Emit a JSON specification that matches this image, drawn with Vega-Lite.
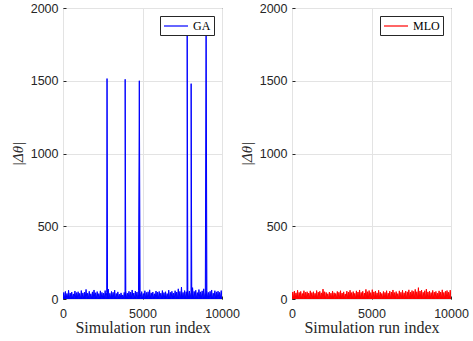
{
"$schema":"https://vega.github.io/schema/vega-lite/v6.json",
"background":"white",
"padding":{"left":9,"top":1,"right":5,"bottom":0},
"datasets":{
"ga":[{"i":0,"v":3},{"i":50,"v":45},{"i":100,"v":1},{"i":150,"v":52},{"i":200,"v":4},{"i":250,"v":38},{"i":300,"v":2},{"i":350,"v":60},{"i":400,"v":0},{"i":450,"v":41},{"i":500,"v":5},{"i":550,"v":48},{"i":600,"v":2},{"i":650,"v":35},{"i":700,"v":1},{"i":750,"v":55},{"i":800,"v":3},{"i":850,"v":44},{"i":900,"v":6},{"i":950,"v":50},
{"i":1000,"v":2},{"i":1050,"v":39},{"i":1100,"v":0},{"i":1150,"v":58},{"i":1200,"v":4},{"i":1250,"v":42},{"i":1300,"v":1},{"i":1350,"v":47},{"i":1400,"v":3},{"i":1450,"v":66},{"i":1500,"v":2},{"i":1550,"v":40},{"i":1600,"v":5},{"i":1650,"v":53},{"i":1700,"v":1},{"i":1750,"v":36},{"i":1800,"v":3},{"i":1850,"v":49},{"i":1900,"v":0},{"i":1950,"v":62},
{"i":2000,"v":4},{"i":2050,"v":43},{"i":2100,"v":2},{"i":2150,"v":51},{"i":2200,"v":1},{"i":2250,"v":37},{"i":2300,"v":5},{"i":2350,"v":56},{"i":2400,"v":2},{"i":2450,"v":45},{"i":2500,"v":3},{"i":2550,"v":40},{"i":2600,"v":0},{"i":2650,"v":58},{"i":2700,"v":4},{"i":2750,"v":44},{"i":2770,"v":1515},{"i":2800,"v":2},{"i":2850,"v":68},{"i":2900,"v":1},{"i":2950,"v":39},
{"i":3000,"v":3},{"i":3050,"v":52},{"i":3100,"v":5},{"i":3150,"v":46},{"i":3200,"v":2},{"i":3250,"v":61},{"i":3300,"v":0},{"i":3350,"v":38},{"i":3400,"v":4},{"i":3450,"v":49},{"i":3500,"v":1},{"i":3550,"v":33},{"i":3600,"v":3},{"i":3650,"v":42},{"i":3700,"v":2},{"i":3750,"v":28},{"i":3800,"v":4},{"i":3850,"v":45},{"i":3900,"v":1},{"i":3910,"v":1510},{"i":3950,"v":57},
{"i":4000,"v":2},{"i":4050,"v":40},{"i":4100,"v":5},{"i":4150,"v":53},{"i":4200,"v":1},{"i":4250,"v":47},{"i":4300,"v":3},{"i":4350,"v":62},{"i":4400,"v":0},{"i":4450,"v":41},{"i":4500,"v":4},{"i":4550,"v":55},{"i":4600,"v":2},{"i":4650,"v":48},{"i":4700,"v":1},{"i":4750,"v":60},{"i":4800,"v":1500},{"i":4850,"v":44},{"i":4900,"v":3},{"i":4950,"v":51},
{"i":5000,"v":2},{"i":5050,"v":38},{"i":5100,"v":4},{"i":5150,"v":57},{"i":5200,"v":1},{"i":5250,"v":45},{"i":5300,"v":3},{"i":5350,"v":50},{"i":5400,"v":0},{"i":5450,"v":63},{"i":5500,"v":5},{"i":5550,"v":42},{"i":5600,"v":2},{"i":5650,"v":48},{"i":5700,"v":1},{"i":5750,"v":36},{"i":5800,"v":4},{"i":5850,"v":55},{"i":5900,"v":2},{"i":5950,"v":47},
{"i":6000,"v":3},{"i":6050,"v":52},{"i":6100,"v":0},{"i":6150,"v":40},{"i":6200,"v":5},{"i":6250,"v":58},{"i":6300,"v":2},{"i":6350,"v":44},{"i":6400,"v":1},{"i":6450,"v":50},{"i":6500,"v":4},{"i":6550,"v":37},{"i":6600,"v":3},{"i":6650,"v":61},{"i":6700,"v":0},{"i":6750,"v":46},{"i":6800,"v":2},{"i":6850,"v":53},{"i":6900,"v":5},{"i":6950,"v":41},
{"i":7000,"v":1},{"i":7050,"v":57},{"i":7100,"v":3},{"i":7150,"v":48},{"i":7200,"v":2},{"i":7250,"v":70},{"i":7300,"v":4},{"i":7350,"v":52},{"i":7400,"v":0},{"i":7450,"v":82},{"i":7500,"v":3},{"i":7550,"v":45},{"i":7600,"v":1},{"i":7650,"v":58},{"i":7700,"v":5},{"i":7750,"v":50},{"i":7800,"v":2},{"i":7810,"v":1900},{"i":7850,"v":63},{"i":7900,"v":4},{"i":7950,"v":55},
{"i":8000,"v":1},{"i":8050,"v":47},{"i":8060,"v":1480},{"i":8100,"v":3},{"i":8150,"v":78},{"i":8200,"v":0},{"i":8250,"v":52},{"i":8300,"v":4},{"i":8350,"v":60},{"i":8400,"v":2},{"i":8450,"v":44},{"i":8500,"v":1},{"i":8550,"v":65},{"i":8600,"v":5},{"i":8650,"v":49},{"i":8700,"v":3},{"i":8750,"v":56},{"i":8800,"v":0},{"i":8850,"v":70},{"i":8900,"v":2},{"i":8950,"v":48},
{"i":9000,"v":1900},{"i":9050,"v":59},{"i":9100,"v":1},{"i":9150,"v":45},{"i":9200,"v":4},{"i":9250,"v":53},{"i":9300,"v":2},{"i":9350,"v":62},{"i":9400,"v":0},{"i":9450,"v":40},{"i":9500,"v":3},{"i":9550,"v":57},{"i":9600,"v":5},{"i":9650,"v":49},{"i":9700,"v":1},{"i":9750,"v":54},{"i":9800,"v":4},{"i":9850,"v":46},{"i":9900,"v":2},{"i":9950,"v":58},{"i":10000,"v":3}],
"mlo":[{"i":0,"v":2},{"i":50,"v":48},{"i":100,"v":4},{"i":150,"v":55},{"i":200,"v":1},{"i":250,"v":42},{"i":300,"v":3},{"i":350,"v":60},{"i":400,"v":0},{"i":450,"v":45},{"i":500,"v":5},{"i":550,"v":52},{"i":600,"v":2},{"i":650,"v":38},{"i":700,"v":4},{"i":750,"v":57},{"i":800,"v":1},{"i":850,"v":46},{"i":900,"v":3},{"i":950,"v":50},
{"i":1000,"v":0},{"i":1050,"v":41},{"i":1100,"v":5},{"i":1150,"v":56},{"i":1200,"v":2},{"i":1250,"v":44},{"i":1300,"v":4},{"i":1350,"v":50},{"i":1400,"v":1},{"i":1450,"v":39},{"i":1500,"v":3},{"i":1550,"v":58},{"i":1600,"v":0},{"i":1650,"v":47},{"i":1700,"v":2},{"i":1750,"v":53},{"i":1800,"v":5},{"i":1850,"v":42},{"i":1900,"v":1},{"i":1950,"v":68},
{"i":2000,"v":3},{"i":2050,"v":50},{"i":2100,"v":0},{"i":2150,"v":45},{"i":2200,"v":4},{"i":2250,"v":36},{"i":2300,"v":2},{"i":2350,"v":48},{"i":2400,"v":5},{"i":2450,"v":40},{"i":2500,"v":1},{"i":2550,"v":55},{"i":2600,"v":3},{"i":2650,"v":43},{"i":2700,"v":0},{"i":2750,"v":38},{"i":2800,"v":4},{"i":2850,"v":52},{"i":2900,"v":2},{"i":2950,"v":46},
{"i":3000,"v":1},{"i":3050,"v":57},{"i":3100,"v":3},{"i":3150,"v":41},{"i":3200,"v":5},{"i":3250,"v":49},{"i":3300,"v":2},{"i":3350,"v":35},{"i":3400,"v":0},{"i":3450,"v":54},{"i":3500,"v":4},{"i":3550,"v":47},{"i":3600,"v":1},{"i":3650,"v":60},{"i":3700,"v":3},{"i":3750,"v":44},{"i":3800,"v":2},{"i":3850,"v":51},{"i":3900,"v":5},{"i":3950,"v":39},
{"i":4000,"v":0},{"i":4050,"v":56},{"i":4100,"v":2},{"i":4150,"v":48},{"i":4200,"v":4},{"i":4250,"v":62},{"i":4300,"v":1},{"i":4350,"v":45},{"i":4400,"v":3},{"i":4450,"v":53},{"i":4500,"v":0},{"i":4550,"v":41},{"i":4600,"v":5},{"i":4650,"v":66},{"i":4700,"v":2},{"i":4750,"v":50},{"i":4800,"v":4},{"i":4850,"v":58},{"i":4900,"v":1},{"i":4950,"v":44},
{"i":5000,"v":3},{"i":5050,"v":64},{"i":5100,"v":0},{"i":5150,"v":49},{"i":5200,"v":2},{"i":5250,"v":55},{"i":5300,"v":5},{"i":5350,"v":42},{"i":5400,"v":1},{"i":5450,"v":60},{"i":5500,"v":3},{"i":5550,"v":47},{"i":5600,"v":4},{"i":5650,"v":38},{"i":5700,"v":0},{"i":5750,"v":52},{"i":5800,"v":2},{"i":5850,"v":45},{"i":5900,"v":5},{"i":5950,"v":57},
{"i":6000,"v":1},{"i":6050,"v":40},{"i":6100,"v":3},{"i":6150,"v":54},{"i":6200,"v":0},{"i":6250,"v":48},{"i":6300,"v":4},{"i":6350,"v":62},{"i":6400,"v":2},{"i":6450,"v":44},{"i":6500,"v":5},{"i":6550,"v":51},{"i":6600,"v":1},{"i":6650,"v":37},{"i":6700,"v":3},{"i":6750,"v":56},{"i":6800,"v":0},{"i":6850,"v":46},{"i":6900,"v":4},{"i":6950,"v":60},
{"i":7000,"v":2},{"i":7050,"v":43},{"i":7100,"v":5},{"i":7150,"v":55},{"i":7200,"v":1},{"i":7250,"v":49},{"i":7300,"v":3},{"i":7350,"v":63},{"i":7400,"v":0},{"i":7450,"v":47},{"i":7500,"v":4},{"i":7550,"v":58},{"i":7600,"v":2},{"i":7650,"v":52},{"i":7700,"v":5},{"i":7750,"v":66},{"i":7800,"v":1},{"i":7850,"v":50},{"i":7900,"v":3},{"i":7950,"v":78},
{"i":8000,"v":0},{"i":8050,"v":55},{"i":8100,"v":4},{"i":8150,"v":61},{"i":8200,"v":2},{"i":8250,"v":46},{"i":8300,"v":5},{"i":8350,"v":57},{"i":8400,"v":1},{"i":8450,"v":68},{"i":8500,"v":3},{"i":8550,"v":49},{"i":8600,"v":0},{"i":8650,"v":54},{"i":8700,"v":4},{"i":8750,"v":44},{"i":8800,"v":2},{"i":8850,"v":59},{"i":8900,"v":5},{"i":8950,"v":47},
{"i":9000,"v":1},{"i":9050,"v":52},{"i":9100,"v":3},{"i":9150,"v":40},{"i":9200,"v":0},{"i":9250,"v":56},{"i":9300,"v":4},{"i":9350,"v":48},{"i":9400,"v":2},{"i":9450,"v":63},{"i":9500,"v":5},{"i":9550,"v":45},{"i":9600,"v":1},{"i":9650,"v":53},{"i":9700,"v":3},{"i":9750,"v":58},{"i":9800,"v":0},{"i":9850,"v":47},{"i":9900,"v":4},{"i":9950,"v":61},{"i":10000,"v":2}]
},
"config":{
"view":{"stroke":"#262626","strokeWidth":1},
"axis":{"labelFont":"Liberation Sans","labelFontSize":12.5,"labelColor":"#262626","titleFont":"Liberation Serif","titleFontSize":16,"titleFontWeight":"normal","titleColor":"#262626","gridColor":"#e3e3e3","gridWidth":1,"domain":false,"ticks":true,"tickSize":-3,"tickColor":"#262626","labelPadding":8,"labelOverlap":false,"labelFlush":false,"format":"d"},
"axisX":{"titlePadding":0,"labelPadding":11},
"axisY":{"titlePadding":5,"titleFontStyle":"italic","titleFontSize":15},
"legend":{"orient":"top-right","offset":8,"padding":3,"strokeColor":"#262626","fillColor":"white","symbolType":"M-1,0H3","symbolSize":144,"symbolStrokeWidth":1.2,"symbolFillColor":"transparent","labelFont":"Liberation Serif","labelFontSize":12,"labelColor":"black","labelOffset":16,"cornerRadius":0,"zindex":1},
"concat":{"spacing":-2}
},
"resolve":{"scale":{"color":"independent"},"legend":{"color":"independent"}},
"hconcat":[
{"width":159,"height":291,"data":{"name":"ga"},
"encoding":{
"x":{"field":"i","type":"quantitative","scale":{"domain":[0,10000],"nice":false},"axis":{"values":[0,5000,10000],"title":"Simulation run index"}},
"y":{"field":"v","type":"quantitative","scale":{"domain":[0,2000],"nice":false},"axis":{"values":[0,500,1000,1500,2000],"title":"|Δθ|"}}
},
"layer":[
{"mark":{"type":"area","color":"#0000ff","clip":true}},
{"mark":{"type":"line","strokeWidth":1,"clip":true},
"encoding":{"color":{"datum":"GA","type":"nominal","scale":{"domain":["GA"],"range":["#0000ff"]},"legend":{"title":null,"symbolStrokeColor":"#0000ff","encode":{"symbols":{"update":{"stroke":{"value":"#0000ff"},"fill":{"value":"transparent"}}}}}}}}
]},
{"width":159,"height":291,"data":{"name":"mlo"},
"encoding":{
"x":{"field":"i","type":"quantitative","scale":{"domain":[0,10000],"nice":false},"axis":{"values":[0,5000,10000],"title":"Simulation run index"}},
"y":{"field":"v","type":"quantitative","scale":{"domain":[0,2000],"nice":false},"axis":{"values":[0,500,1000,1500,2000],"title":"|Δθ|"}}
},
"layer":[
{"mark":{"type":"area","color":"#ff0000","clip":true}},
{"mark":{"type":"line","strokeWidth":1,"clip":true},
"encoding":{"color":{"datum":"MLO","type":"nominal","scale":{"domain":["MLO"],"range":["#ff0000"]},"legend":{"title":null,"symbolStrokeColor":"#ff0000","encode":{"symbols":{"update":{"stroke":{"value":"#ff0000"},"fill":{"value":"transparent"}}}}}}}}
]}
]
}
